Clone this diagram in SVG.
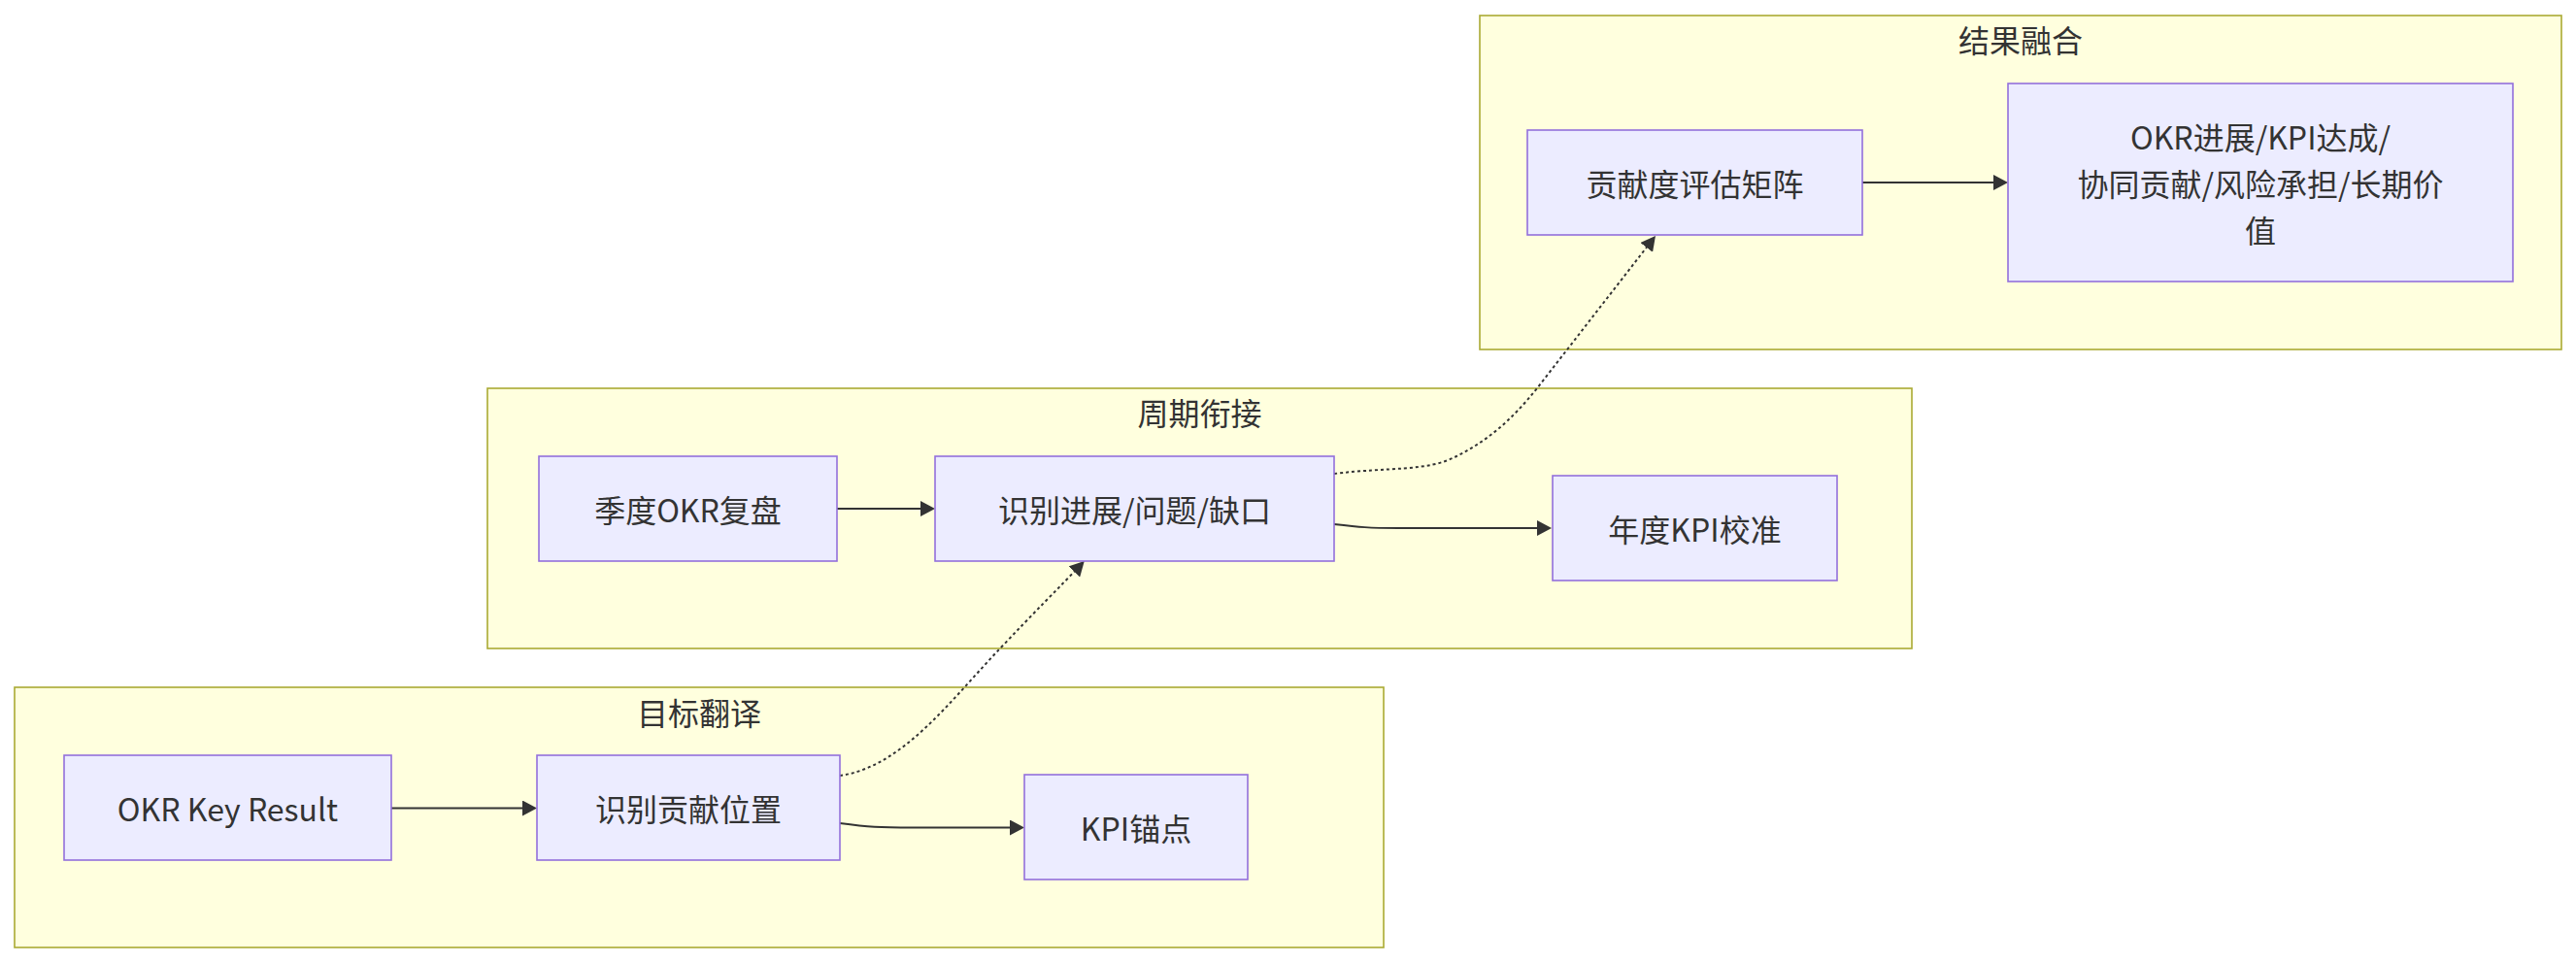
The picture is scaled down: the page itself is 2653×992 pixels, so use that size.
<svg xmlns="http://www.w3.org/2000/svg" width="2653" height="992" viewBox="0 0 2653 992">
<style>
.cluster rect{fill:#ffffde;stroke:#aaaa33;stroke-width:1.6}
.node rect{fill:#ececff;stroke:#9370db;stroke-width:1.6}
text{font-family:"Noto Sans CJK SC","Noto Sans",sans-serif;font-size:32px;fill:#333333;text-anchor:middle;dominant-baseline:central}
.edge{fill:none;stroke:#333333;stroke-width:2}
.dotted{stroke-dasharray:3 3}
</style>
<defs>
<marker id="arrow" viewBox="0 0 15 16" refX="11" refY="8" markerWidth="15" markerHeight="16" markerUnits="userSpaceOnUse" orient="auto">
<path d="M0,0 L15,8 L0,16 z" fill="#333333"/>
</marker>
</defs>
<rect width="2653" height="992" fill="#ffffff"/>
<g id="cluster-target" class="cluster">
<rect x="15" y="708" width="1410" height="268"/>
<text x="720" y="733">目标翻译</text>
</g>
<g id="cluster-cycle" class="cluster">
<rect x="502" y="400" width="1467" height="268"/>
<text x="1235.5" y="424">周期衔接</text>
</g>
<g id="cluster-result" class="cluster">
<rect x="1524" y="16" width="1114" height="344"/>
<text x="2081" y="40">结果融合</text>
</g>
<g id="connectors">
<path class="edge" d="M403,832.5 L549,832.5" marker-end="url(#arrow)"/>
<path class="edge" d="M865,848 C895,852 905,852.5 940,852.5 L1051,852.5" marker-end="url(#arrow)"/>
<path class="edge dotted" d="M865,799 C930,790 980,720 1030,668 C1062,634 1090,606 1114,581" marker-end="url(#arrow)"/>
<path class="edge" d="M862,524 L959,524" marker-end="url(#arrow)"/>
<path class="edge" d="M1374,540 C1400,543 1410,544 1440,544 L1594,544" marker-end="url(#arrow)"/>
<path class="edge dotted" d="M1374,488 C1430,481 1470,486 1500,470 C1530,455 1555,435 1583,400 L1702.5,246.2" marker-end="url(#arrow)"/>
<path class="edge" d="M1918,188 L2064,188" marker-end="url(#arrow)"/>
</g>
<g id="node-okr-kr" class="node">
<rect x="66" y="778" width="337" height="108"/>
<text x="234.5" y="832">OKR Key Result</text>
</g>
<g id="node-identify-contrib" class="node">
<rect x="553" y="778" width="312" height="108"/>
<text x="709" y="832">识别贡献位置</text>
</g>
<g id="node-kpi-anchor" class="node">
<rect x="1055" y="798" width="230" height="108"/>
<text x="1170" y="852">KPI锚点</text>
</g>
<g id="node-quarter-review" class="node">
<rect x="555" y="470" width="307" height="108"/>
<text x="708.5" y="524">季度OKR复盘</text>
</g>
<g id="node-identify-gap" class="node">
<rect x="963" y="470" width="411" height="108"/>
<text x="1168.5" y="524">识别进展/问题/缺口</text>
</g>
<g id="node-annual-kpi" class="node">
<rect x="1599" y="490" width="293" height="108"/>
<text x="1745.5" y="544">年度KPI校准</text>
</g>
<g id="node-matrix" class="node">
<rect x="1573" y="134" width="345" height="108"/>
<text x="1745.5" y="188">贡献度评估矩阵</text>
</g>
<g id="node-dimensions" class="node">
<rect x="2068" y="86" width="520" height="204"/>
<text x="2328" y="140">OKR进展/KPI达成/</text>
<text x="2328" y="188">协同贡献/风险承担/长期价</text>
<text x="2328" y="236">值</text>
</g>
</svg>
